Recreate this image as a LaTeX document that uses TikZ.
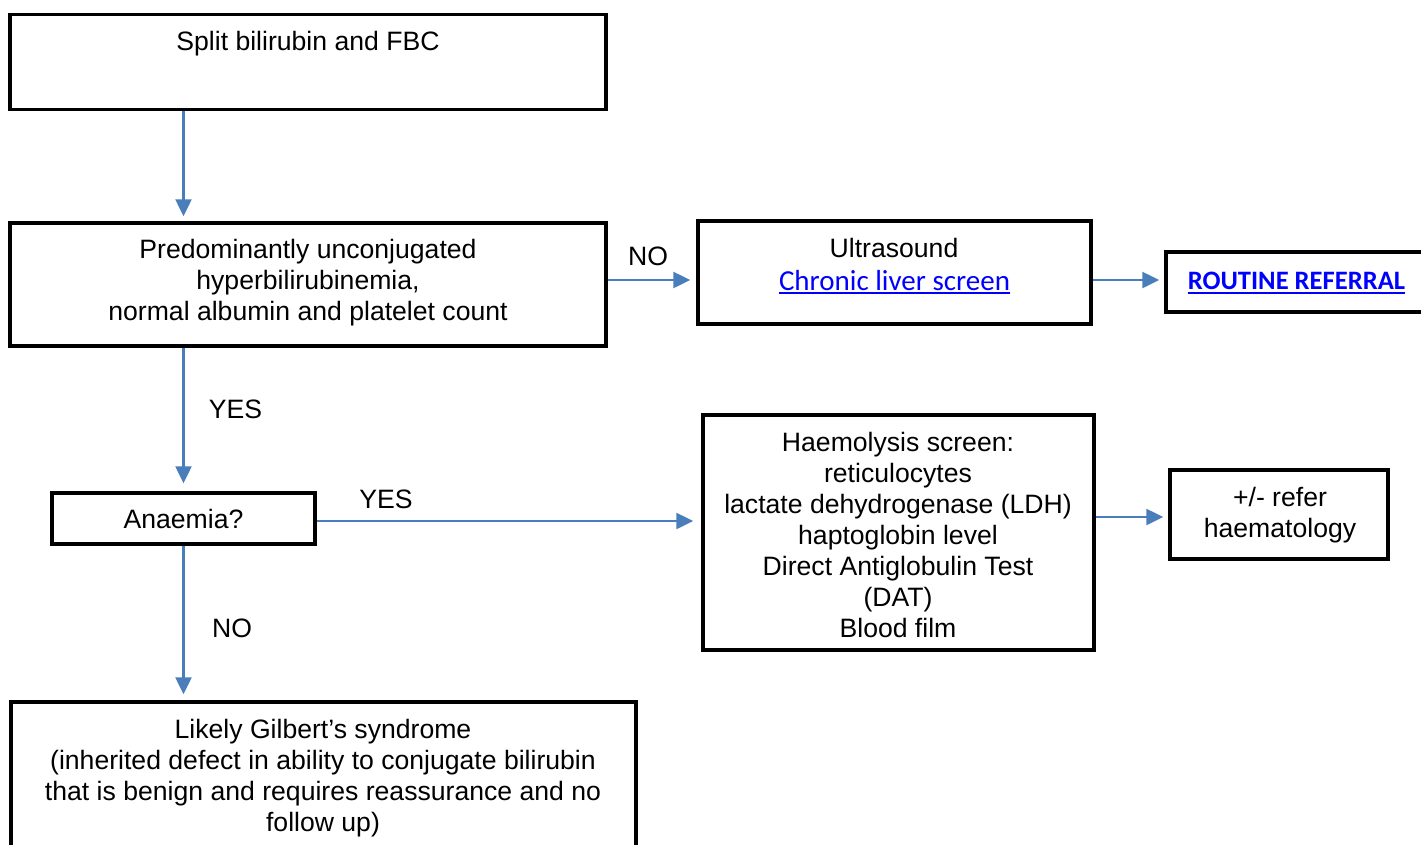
\documentclass[tikz,border=0pt]{standalone}
\usepackage{fontspec}
\setmainfont{Liberation Sans}
\newfontfamily\calibri{Carlito}
\usetikzlibrary{arrows.meta}
\definecolor{arrblue}{RGB}{74,126,187}
\definecolor{linkblue}{RGB}{0,0,255}
\newcommand\mylinkul[1]{\setbox0\hbox{#1}\rlap{\rule[-4pt]{\wd0}{2pt}}\box0}
\begin{document}
\begin{tikzpicture}[x=1pt,y=-1pt,
  box/.style={draw=black, line width=3.5pt, inner sep=0pt},
  txt/.style={font=\fontsize{26.6}{31}\selectfont, align=center, inner sep=0pt, text=black},
  lbl/.style={font=\fontsize{26.6}{31}\selectfont, inner sep=0pt, anchor=base, text=black},
  arr/.style={draw=arrblue, line width=2.5pt, -{Triangle[length=17pt,width=16pt]}}]
\useasboundingbox (0,0) rectangle (1421,844);
\clip (0,0) rectangle (1421,844);
\fill[white] (0,0) rectangle (1421,844);

% boxes
\node[box, minimum width=596pt, minimum height=95pt]  (split)   at (308,61.75) {};
\node[box, minimum width=596pt, minimum height=123pt] (pred)    at (308,284.5) {};
\node[box, minimum width=393pt, minimum height=103pt] (ultra)   at (894.5,272.5) {};
\node[box, minimum width=274pt, minimum height=60pt]  (routine) at (1303,282) {};
\node[box, minimum width=263pt, minimum height=51pt]  (anaemia) at (183.5,518.5) {};
\node[box, minimum width=391pt, minimum height=235pt] (haemo)   at (898.5,532.5) {};
\node[box, minimum width=218pt, minimum height=89pt]  (refer)   at (1279,514.5) {};
\node[box, minimum width=625pt, minimum height=160pt] (gilbert) at (323.5,782) {};

% texts
\node[lbl] (split-t) at (308,50.5) {Split bilirubin and FBC};
\node[txt] (pred-t) at (308,282.5) {Predominantly unconjugated\\hyperbilirubinemia,\\normal albumin and platelet count};
\node[lbl] (ultra-t) at (894,257.5) {Ultrasound};
\node[lbl, font=\calibri\fontsize{29}{33}\selectfont, text=linkblue] (ultra-l) at (894.5,290) {\mylinkul{Chronic liver screen}};
\node[lbl, font=\calibri\bfseries\fontsize{26.6}{31}\selectfont, text=linkblue] (routine-t) at (1296.5,289.5) {\mylinkul{ROUTINE REFERRAL}};
\node[lbl] (anaemia-t) at (183.5,528.5) {Anaemia?};
\node[txt] (haemo-t) at (898,534.5) {Haemolysis screen:\\reticulocytes\\lactate dehydrogenase (LDH)\\haptoglobin level\\Direct Antiglobulin Test\\(DAT)\\Blood film};
\node[txt] (refer-t) at (1280,515) {+/- refer\\haematology};
\node[txt] (gilbert-t) at (323,778) {Likely Gilbert’s syndrome\\(inherited defect in ability to conjugate bilirubin\\that is benign and requires reassurance and no\\follow up)};

% labels
\node[lbl] (no1)  at (648,265.5) {NO};
\node[lbl] (yes1) at (235.5,418.5) {YES};
\node[lbl] (yes2) at (386,508.5) {YES};
\node[lbl] (no2)  at (232,637.5) {NO};

% connectors
\draw[arr, shorten >=5pt] (split.south -| anaemia.north) -- (pred.north -| anaemia.north);
\draw[arr, shorten >=8pt] (pred.south -| anaemia.north) -- (anaemia.north);
\draw[arr, shorten >=6pt] (anaemia.south) -- (gilbert.north -| anaemia.south);
\draw[arr, shorten >=8pt] ([yshift=-2.5pt]anaemia.east) -- ([yshift=-2.5pt]anaemia.east -| haemo.west);
\draw[arr, shorten >=6pt] ([yshift=4.5pt]pred.east) -- ([yshift=4.5pt]pred.east -| ultra.west);
\draw[arr, shorten >=5pt] ([yshift=2pt]routine.west -| ultra.east) -- ([yshift=2pt]routine.west);
\draw[arr, shorten >=5pt] ([yshift=15.5pt]haemo.east) -- ([yshift=15.5pt]haemo.east -| refer.west);
\end{tikzpicture}
\end{document}
